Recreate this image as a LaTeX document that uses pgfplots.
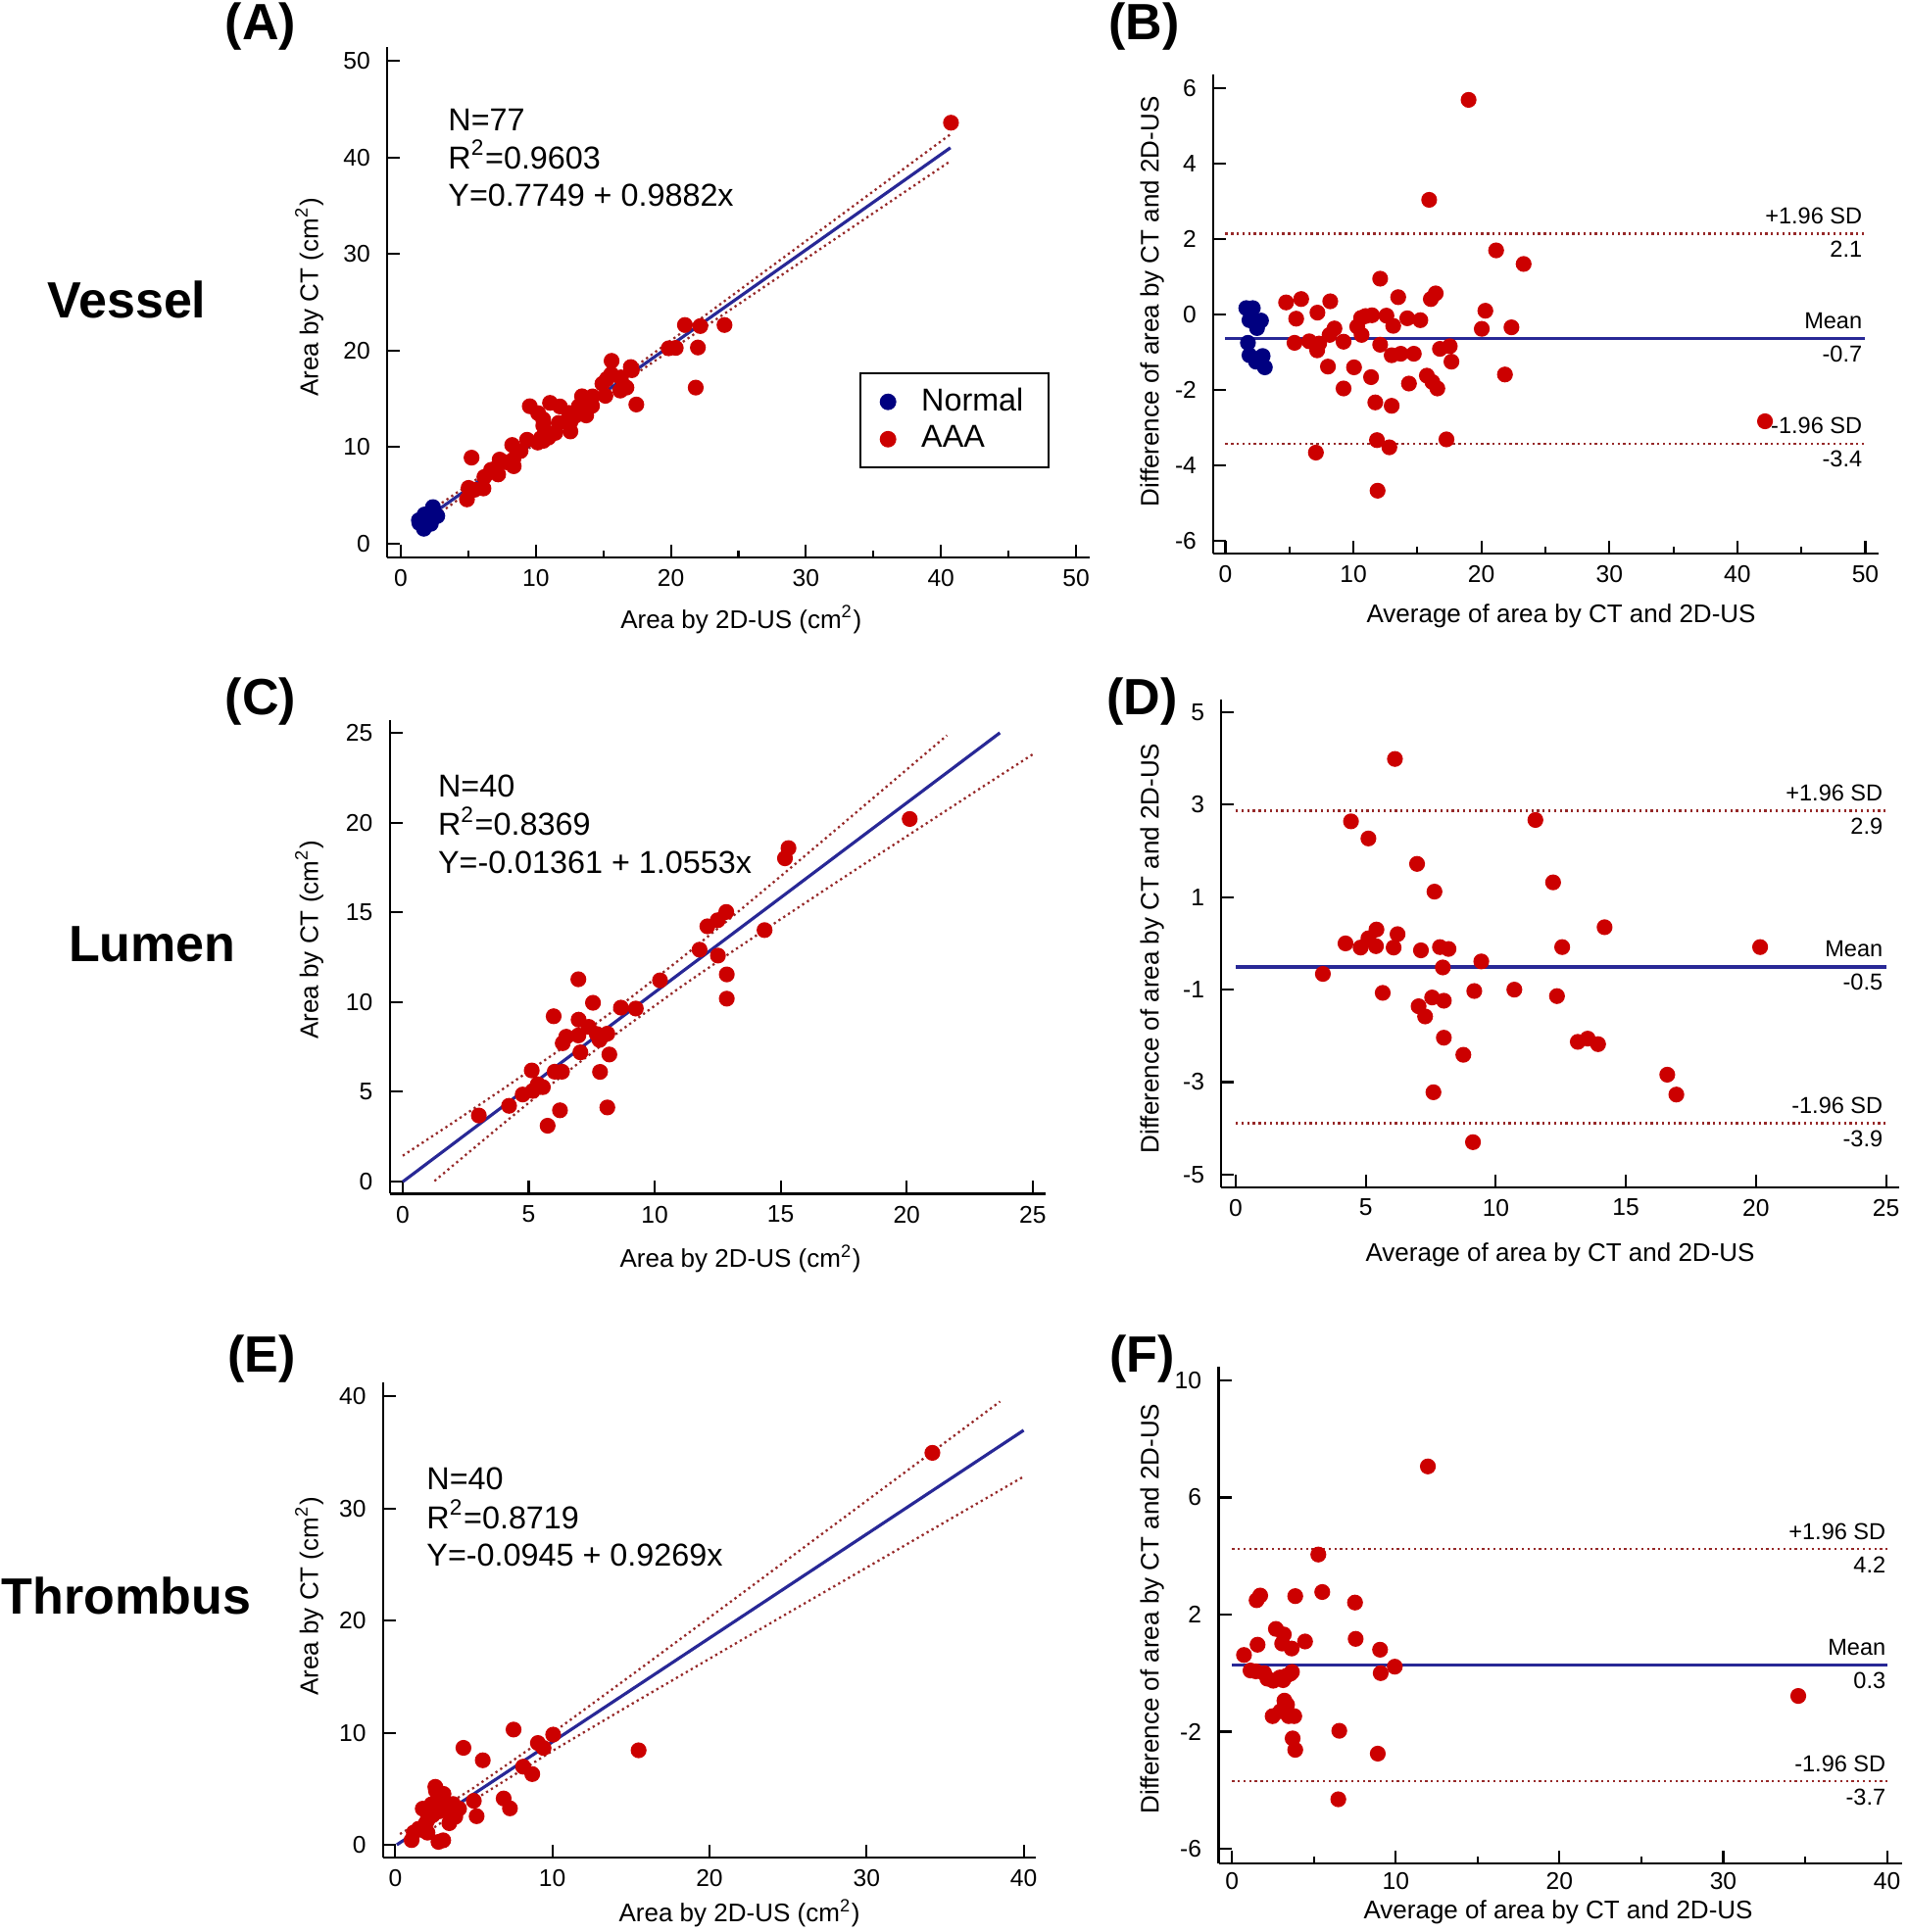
\documentclass[border=0pt]{standalone}
\usepackage{fontspec}
\setmainfont{Liberation Sans}
\usepackage{pgfplots}
\pgfplotsset{compat=1.18}

\definecolor{ptred}{RGB}{204,0,0}
\definecolor{ptblue}{RGB}{0,0,128}
\definecolor{regblue}{RGB}{40,40,150}
\definecolor{bandred}{RGB}{150,40,40}

\newcommand{\tickfont}{\fontsize{7}{8}\selectfont}
\newcommand{\labfont}{\fontsize{7.4}{9}\selectfont}
\newcommand{\eqfont}{\fontsize{9.2}{11}\selectfont}
\newcommand{\sdfont}{\fontsize{6.7}{8}\selectfont}
\newcommand{\bigfont}{\fontsize{14.8}{17}\selectfont\bfseries}

\pgfplotsset{
  panel/.style={
    scale only axis,
    anchor=south west,
    axis lines=left,
    axis line style={-, line width=0.6pt},
    tick align=inside,
    major tick length=0.13cm,
    minor tick length=0.07cm,
    tick style={black, line width=0.6pt},
    ticklabel style={font=\tickfont},
    yticklabel style={xshift=-0.05cm},
    xticklabel style={yshift=0cm},
    /pgf/number format/assume math mode=true,
    clip=false,
  },
  dotsred/.style={only marks, mark=*, mark size=2.1pt, ptred},
  dotsblue/.style={only marks, mark=*, mark size=2.1pt, ptblue},
  regline/.style={regblue, line width=0.9pt},
  bandline/.style={bandred, line width=0.65pt, densely dotted},
}

\begin{document}
\begin{tikzpicture}
\path[use as bounding box] (0,0) rectangle (19.46,19.72);

% ---------- (A) vessel: regression ----------
\begin{axis}[panel, at={(3.952cm,14.032cm)}, width=7.166cm, height=5.206cm,
  xmin=-1, xmax=51, ymin=-1.4, ymax=51.4,
  xtick={0,10,...,50}, ytick={0,10,...,50}, minor x tick num=1,
  legend cell align=left,
  legend image code/.code={\path[draw=none, fill=none] (0cm,-0.05cm) rectangle (0.36cm,0.05cm);
    \draw[#1] plot coordinates {(0.07cm,0cm)};},
  legend style={at={(0.672,0.363)}, anchor=north west, draw=black,
    line width=0.6pt, font=\eqfont, inner xsep=0.21cm, inner ysep=0.15cm,
    row sep=0.1cm, nodes={inner xsep=0.05cm, inner ysep=0cm}},
]
\addplot[dotsblue] coordinates {
  (1.71,1.55) (2.22,2.06) (1.80,1.96) (2.29,2.49) (2.70,2.87) (2.29,2.66)
  (1.38,2.14) (1.34,2.43) (1.76,3.02) (2.36,3.47) (2.38,3.79)
};
\addlegendentry{Normal}
\addplot[dotsred] coordinates {
  (21.84,16.16) (17.44,14.41) (22.00,20.31) (23.97,22.64) (12.56,11.62)
  (4.90,4.59) (6.12,5.72) (8.36,8.02) (7.21,7.17) (5.47,5.59) (13.73,13.28)
  (16.25,15.85) (16.71,16.16) (20.36,20.27) (19.84,20.23) (22.18,22.53)
  (10.55,10.65) (10.93,10.98) (11.44,11.47) (12.56,12.60) (12.96,13.27)
  (14.16,14.27) (15.15,15.31) (10.14,10.47) (10.37,10.92) (8.33,8.71)
  (7.87,8.42) (5.02,5.78) (6.19,6.91) (6.93,7.71) (6.69,7.65) (8.87,9.60)
  (11.69,12.50) (7.32,8.71) (9.35,10.76) (8.25,10.22) (10.55,12.22)
  (12.45,13.54) (13.18,14.23) (14.20,15.25) (16.30,17.22) (17.11,17.96)
  (17.03,18.29) (13.42,15.26) (14.93,16.56) (15.27,17.07) (15.58,17.55)
  (21.04,22.64) (10.54,12.88) (11.78,14.21) (10.17,13.51) (11.05,14.58)
  (15.61,18.93) (5.24,8.91) (9.55,14.23) (40.74,43.58)
};
\addlegendentry{AAA}
\addplot[bandline, forget plot] coordinates {
  (1.3,2.57) (6,7.04) (11,11.90) (16,16.93) (22,23.08) (30,31.33) (40.7,42.38)};
\addplot[bandline, forget plot] coordinates {
  (1.3,1.55) (6,6.36) (11,11.40) (16,16.25) (22,21.95) (30,29.51) (40.7,39.61)};
\addplot[regline, forget plot] coordinates {(1.3,2.06) (40.7,40.99)};
\end{axis}

% ---------- (B) vessel: Bland-Altman ----------
\begin{axis}[panel, at={(12.383cm,14.072cm)}, width=6.782cm, height=4.89cm,
  xmin=-0.93, xmax=51, ymin=-6.34, ymax=6.36,
  xtick={0,10,...,50}, minor x tick num=1,
  ytick={-6,-4,-2,0,2,4,6}, yticklabels={-6,-4,-2,0,2,4,6},
]
\addplot[dotsblue] coordinates {
  (1.63,0.16) (2.14,0.16) (1.88,-0.16) (2.39,-0.20) (2.78,-0.17) (2.47,-0.37)
  (1.76,-0.76) (1.88,-1.09) (2.39,-1.26) (2.91,-1.11) (3.08,-1.41)
};
\addplot[dotsred] coordinates {
  (19.0,5.68) (15.92,3.03) (21.15,1.69) (23.30,1.33) (12.09,0.94) (4.74,0.31)
  (5.92,0.40) (8.19,0.34) (7.19,0.04) (5.53,-0.12) (13.50,0.45) (16.05,0.40)
  (16.43,0.55) (20.31,0.09) (20.03,-0.39) (22.35,-0.35) (10.6,-0.10)
  (10.95,-0.05) (11.45,-0.03) (12.58,-0.04) (13.11,-0.31) (14.21,-0.11)
  (15.23,-0.16) (10.3,-0.33) (10.64,-0.55) (8.52,-0.38) (8.14,-0.55)
  (5.4,-0.76) (6.55,-0.72) (7.32,-0.78) (7.17,-0.96) (9.23,-0.73)
  (12.09,-0.81) (8.01,-1.39) (10.05,-1.41) (9.23,-1.97) (11.38,-1.67)
  (12.99,-1.09) (13.70,-1.05) (14.72,-1.05) (16.76,-0.92) (17.53,-0.85)
  (17.66,-1.26) (14.34,-1.84) (15.74,-1.63) (16.17,-1.80) (16.56,-1.97)
  (21.84,-1.60) (11.71,-2.34) (12.99,-2.43) (11.84,-3.34) (12.81,-3.53)
  (17.27,-3.32) (7.07,-3.67) (11.89,-4.68) (42.16,-2.84)
};
\addplot[bandline] coordinates {(0,2.13) (50,2.13)};
\addplot[bandline] coordinates {(0,-3.43) (50,-3.43)};
\addplot[regline] coordinates {(0,-0.65) (50,-0.65)};
\node[font=\sdfont, anchor=base east, inner sep=0, yshift=0.1cm] at (axis cs:49.8,2.13) {+1.96 SD};
\node[font=\sdfont, anchor=base east, inner sep=0, yshift=-0.24cm] at (axis cs:49.8,2.13) {2.1};
\node[font=\sdfont, anchor=base east, inner sep=0, yshift=0.1cm] at (axis cs:49.8,-0.65) {Mean};
\node[font=\sdfont, anchor=base east, inner sep=0, yshift=-0.24cm] at (axis cs:49.8,-0.65) {-0.7};
\node[font=\sdfont, anchor=base east, inner sep=0, yshift=0.1cm] at (axis cs:49.8,-3.43) {-1.96 SD};
\node[font=\sdfont, anchor=base east, inner sep=0, yshift=-0.24cm] at (axis cs:49.8,-3.43) {-3.4};
\end{axis}

% ---------- (C) lumen: regression ----------
\begin{axis}[panel, at={(3.976cm,7.535cm)}, width=6.69cm, height=4.833cm,
  xmin=-0.52, xmax=25.5, ymin=-0.68, ymax=25.7,
  xtick={0,5,...,25}, ytick={0,5,...,25},
]
\addplot[dotsred] coordinates {
  (8.12,4.13) (5.75,3.11) (6.24,3.97) (7.83,6.11) (8.20,7.08) (12.86,10.19)
  (12.86,11.54) (14.36,14.01) (12.51,12.59) (20.12,20.20) (4.22,4.22)
  (4.76,4.85) (5.16,5.05) (5.56,5.26) (5.36,5.42) (6.32,6.12) (6.03,6.12)
  (7.05,7.20) (7.81,7.89) (8.12,8.24) (7.70,8.22) (9.25,9.64) (3.02,3.68)
  (5.12,6.19) (6.97,8.14) (7.38,8.62) (6.35,7.71) (6.49,8.07) (8.66,9.69)
  (10.21,11.21) (11.78,12.92) (6.98,9.02) (7.55,9.96) (12.09,14.22)
  (12.50,14.56) (12.84,15.02) (15.17,18.01) (15.31,18.58) (5.99,9.21)
  (6.97,11.27)
};
\addplot[bandline] coordinates {
  (0,1.44) (2,3.29) (4,5.18) (6,7.11) (8.5,9.65) (11,12.38) (13,14.67)
  (15,17.01) (17,19.38) (19,21.76) (21.6,24.86)};
\addplot[bandline] coordinates {
  (1.26,0.03) (2,0.90) (4,3.24) (6,5.53) (8.5,8.26) (11,10.81) (13,12.74)
  (15,14.62) (17,16.48) (19,18.32) (21,20.15) (23,21.98) (25,23.80)};
\addplot[regline] coordinates {(0,-0.01) (23.7,25.00)};
\end{axis}

% ---------- (D) lumen: Bland-Altman ----------
\begin{axis}[panel, at={(12.464cm,7.604cm)}, width=6.914cm, height=4.973cm,
  xmin=-0.55, xmax=25.5, ymin=-5.27, ymax=5.27,
  xtick={0,5,...,25},
  ytick={-5,-3,-1,1,3,5}, yticklabels={-5,-3,-1,1,3,5},
]
\addplot[dotsred] coordinates {
  (6.12,3.99) (4.43,2.64) (5.10,2.27) (6.97,1.72) (7.64,1.12) (11.52,2.67)
  (12.20,1.32) (14.18,0.35) (12.55,-0.08) (20.16,-0.08) (4.22,0.0)
  (4.80,-0.09) (5.10,0.11) (5.41,0.30) (5.39,-0.06) (6.22,0.20) (6.07,-0.09)
  (7.12,-0.15) (7.85,-0.08) (8.18,-0.12) (7.96,-0.52) (9.44,-0.39)
  (3.35,-0.66) (5.65,-1.07) (7.55,-1.17) (8.0,-1.24) (7.03,-1.36)
  (7.28,-1.58) (9.17,-1.03) (10.71,-1.00) (12.35,-1.14) (8.0,-2.04)
  (8.75,-2.41) (13.15,-2.13) (13.53,-2.06) (13.93,-2.18) (16.59,-2.84)
  (16.94,-3.27) (7.60,-3.22) (9.12,-4.30)
};
\addplot[bandline] coordinates {(0,2.87) (25,2.87)};
\addplot[bandline] coordinates {(0,-3.89) (25,-3.89)};
\addplot[regline] coordinates {(0,-0.51) (25,-0.51)};
\node[font=\sdfont, anchor=base east, inner sep=0, yshift=0.1cm] at (axis cs:24.9,2.87) {+1.96 SD};
\node[font=\sdfont, anchor=base east, inner sep=0, yshift=-0.24cm] at (axis cs:24.9,2.87) {2.9};
\node[font=\sdfont, anchor=base east, inner sep=0, yshift=0.1cm] at (axis cs:24.9,-0.51) {Mean};
\node[font=\sdfont, anchor=base east, inner sep=0, yshift=-0.24cm] at (axis cs:24.9,-0.51) {-0.5};
\node[font=\sdfont, anchor=base east, inner sep=0, yshift=0.1cm] at (axis cs:24.9,-3.89) {-1.96 SD};
\node[font=\sdfont, anchor=base east, inner sep=0, yshift=-0.24cm] at (axis cs:24.9,-3.89) {-3.9};
\end{axis}

% ---------- (E) thrombus: regression ----------
\begin{axis}[panel, at={(3.91cm,0.762cm)}, width=6.664cm, height=4.853cm,
  xmin=-0.77, xmax=40.8, ymin=-1.12, ymax=41.3,
  xtick={0,10,...,40}, ytick={0,10,...,40},
]
\addplot[dotsred] coordinates {
  (15.49,8.43) (7.30,3.25) (6.90,4.13) (2.75,0.26) (3.05,0.40) (5.18,2.55)
  (8.72,6.31) (3.44,1.93) (3.82,2.50) (3.57,2.56) (4.06,3.22) (5.00,3.92)
  (2.05,1.08) (8.14,6.97) (9.44,8.64) (1.04,0.42) (10.05,9.83) (1.18,1.09)
  (1.49,1.43) (1.96,1.96) (2.07,2.26) (2.39,2.65) (2.85,3.00) (3.00,3.24)
  (3.55,3.57) (3.68,3.64) (9.08,9.08) (2.73,3.67) (2.82,3.90) (1.75,3.22)
  (2.31,3.61) (2.73,4.20) (3.07,4.54) (2.59,4.82) (2.55,5.17) (5.57,7.54)
  (7.53,10.28) (4.34,8.65) (34.19,34.97) (3.25,3.35)
};
\addplot[bandline] coordinates {
  (0.3,0.96) (1,1.55) (5,5.09) (10,9.97) (15,15.10) (20,20.28) (25,25.48)
  (30,30.69) (35,35.90) (38.5,39.55)};
\addplot[bandline] coordinates {
  (1,0.11) (5,3.99) (10,8.37) (15,12.52) (20,16.60) (25,20.68) (30,24.73)
  (35,28.80) (40,32.85)};
\addplot[regline] coordinates {(0.1,0.0) (40,36.98)};
\end{axis}

% ---------- (F) thrombus: Bland-Altman ----------
\begin{axis}[panel, at={(12.435cm,0.70cm)}, width=6.971cm, height=5.074cm,
  xmin=-0.82, xmax=40.9, ymin=-6.5, ymax=10.48,
  xtick={0,10,...,40}, minor x tick num=1,
  xticklabel style={yshift=0.03cm},
  ytick={-6,-2,2,6,10}, yticklabels={-6,-2,2,6,10},
]
\addplot[dotsred] coordinates {
  (11.96,7.06) (5.27,4.05) (5.51,2.77) (1.50,2.49) (1.72,2.65) (3.86,2.63)
  (7.51,2.41) (2.68,1.51) (3.16,1.32) (3.06,1.01) (3.64,0.84) (4.46,1.08)
  (1.56,0.97) (7.55,1.17) (9.04,0.80) (0.73,0.62) (9.94,0.22) (1.13,0.09)
  (1.46,0.06) (1.96,0.0) (2.16,-0.19) (2.52,-0.26) (2.92,-0.15) (3.12,-0.24)
  (3.56,-0.02) (3.66,0.04) (9.08,0.0) (3.20,-0.94) (3.36,-1.08) (2.48,-1.47)
  (2.96,-1.30) (3.46,-1.47) (3.80,-1.47) (3.70,-2.23) (3.86,-2.62)
  (6.55,-1.97) (8.90,-2.75) (6.49,-4.31) (34.58,-0.78) (3.30,-0.10)
};
\addplot[bandline] coordinates {(0,4.24) (40,4.24)};
\addplot[bandline] coordinates {(0,-3.70) (40,-3.70)};
\addplot[regline] coordinates {(0,0.27) (40,0.27)};
\node[font=\sdfont, anchor=base east, inner sep=0, yshift=0.1cm] at (axis cs:39.96,4.24) {+1.96 SD};
\node[font=\sdfont, anchor=base east, inner sep=0, yshift=-0.24cm] at (axis cs:39.96,4.24) {4.2};
\node[font=\sdfont, anchor=base east, inner sep=0, yshift=0.1cm] at (axis cs:39.96,0.27) {Mean};
\node[font=\sdfont, anchor=base east, inner sep=0, yshift=-0.24cm] at (axis cs:39.96,0.27) {0.3};
\node[font=\sdfont, anchor=base east, inner sep=0, yshift=0.1cm] at (axis cs:39.96,-3.70) {-1.96 SD};
\node[font=\sdfont, anchor=base east, inner sep=0, yshift=-0.24cm] at (axis cs:39.96,-3.70) {-3.7};
\end{axis}

% ---------- labels, in pixels of the reference (y down) ----------
\begin{scope}[x=0.01cm, y=-0.01cm, shift={(0cm,19.72cm)}]
  \node[font=\bigfont] at (266,27) {(A)};
  \node[font=\bigfont] at (1168,27) {(B)};
  \node[font=\bigfont] at (266,716) {(C)};
  \node[font=\bigfont] at (1166,716) {(D)};
  \node[font=\bigfont] at (267,1388) {(E)};
  \node[font=\bigfont] at (1166,1388) {(F)};
  \node[font=\bigfont] at (129.5,306) {Vessel};
  \node[font=\bigfont] at (155.5,964) {Lumen};
  \node[font=\bigfont] at (129,1630) {Thrombus};

  \node[font=\eqfont, anchor=base west, inner sep=0] at (457,133.5) {N=77};
  \node[font=\eqfont, anchor=base west, inner sep=0] at (457,172.5) {R\textsuperscript{2}=0.9603};
  \node[font=\eqfont, anchor=base west, inner sep=0] at (457,210.3) {Y=0.7749 + 0.9882x};
  \node[font=\eqfont, anchor=base west, inner sep=0] at (446.6,814) {N=40};
  \node[font=\eqfont, anchor=base west, inner sep=0] at (446.6,853) {R\textsuperscript{2}=0.8369};
  \node[font=\eqfont, anchor=base west, inner sep=0] at (446.6,892) {Y=-0.01361 + 1.0553x};
  \node[font=\eqfont, anchor=base west, inner sep=0] at (435,1521) {N=40};
  \node[font=\eqfont, anchor=base west, inner sep=0] at (435,1561) {R\textsuperscript{2}=0.8719};
  \node[font=\eqfont, anchor=base west, inner sep=0] at (435,1599) {Y=-0.0945 + 0.9269x};

  \node[font=\labfont] at (756.7,632.8) {Area by 2D-US (cm\textsuperscript{2})};
  \node[font=\labfont, rotate=90] at (315.8,303.8) {Area by CT (cm\textsuperscript{2})};
  \node[font=\labfont] at (1594,629) {Average of area by CT and 2D-US};
  \node[font=\labfont, rotate=90] at (1176.2,308) {Difference of area by CT and 2D-US};
  \node[font=\labfont] at (756,1285.7) {Area by 2D-US (cm\textsuperscript{2})};
  \node[font=\labfont, rotate=90] at (315.8,959.9) {Area by CT (cm\textsuperscript{2})};
  \node[font=\labfont] at (1593,1281.9) {Average of area by CT and 2D-US};
  \node[font=\labfont, rotate=90] at (1176.2,968.7) {Difference of area by CT and 2D-US};
  \node[font=\labfont] at (755,1954) {Area by 2D-US (cm\textsuperscript{2})};
  \node[font=\labfont, rotate=90] at (315.8,1630.4) {Area by CT (cm\textsuperscript{2})};
  \node[font=\labfont] at (1591,1953) {Average of area by CT and 2D-US};
  \node[font=\labfont, rotate=90] at (1176.2,1643) {Difference of area by CT and 2D-US};
\end{scope}
\end{tikzpicture}
\end{document}
